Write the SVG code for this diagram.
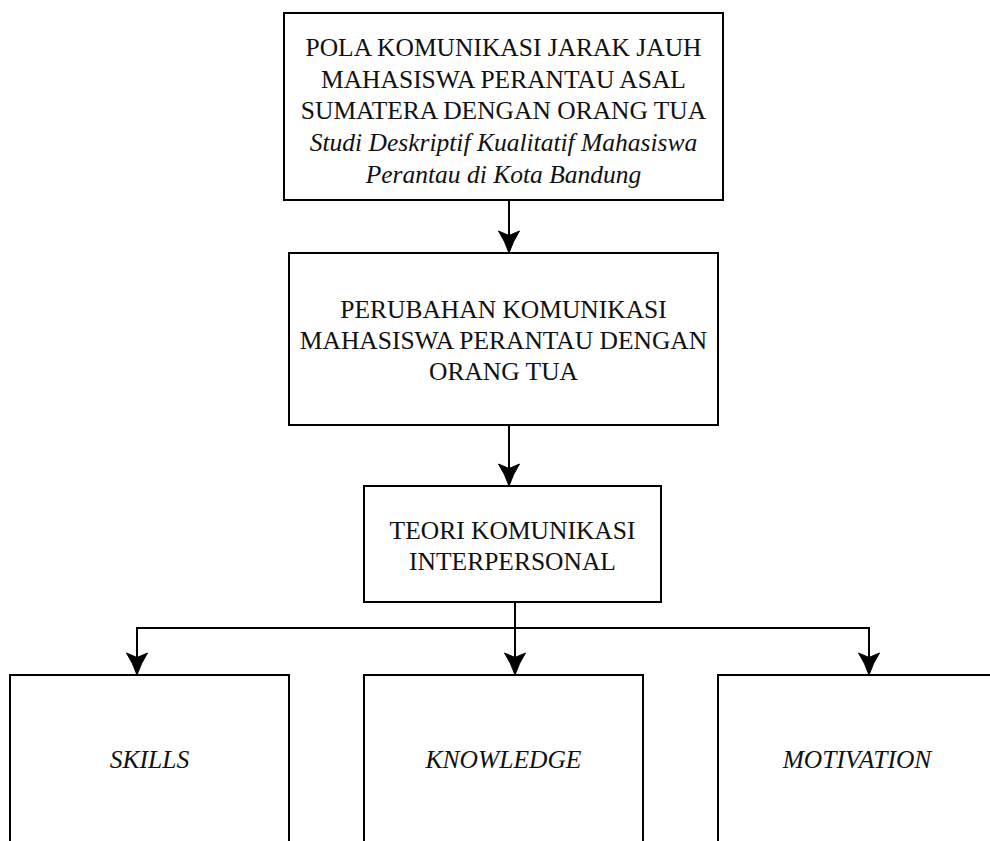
<svg xmlns="http://www.w3.org/2000/svg" width="990" height="841" viewBox="0 0 990 841">
<style>
.box{fill:#fff;stroke:#000;stroke-width:2}
.t{font-family:"Liberation Serif","Times New Roman",serif;font-size:25.5px;fill:#111;text-anchor:middle}
.i{font-style:italic}
.c{fill:none;stroke:#000;stroke-width:2}
.ah{fill:#000;stroke:#000;stroke-width:1;stroke-linejoin:round}
</style>
<rect width="990" height="841" fill="#fff"/>
<g id="connectors">
<path class="c" d="M509 200 V240"/>
<path class="ah" d="M509 253 Q505 241 498.5 231 L509 235.5 L519.5 231 Q513 241 509 253 Z"/>
<path class="c" d="M509 425 V473"/>
<path class="ah" d="M509 486 Q505 474 498.5 464 L509 468.5 L519.5 464 Q513 474 509 486 Z"/>
<path class="c" d="M515 602 V662"/>
<path class="ah" d="M515 675 Q511 663 504.5 653 L515 657.5 L525.5 653 Q519 663 515 675 Z"/>
<path class="c" d="M137 662 V628 H869 V662"/>
<path class="ah" d="M137 675 Q133 663 126.5 653 L137 657.5 L147.5 653 Q141 663 137 675 Z"/>
<path class="ah" d="M869 675 Q865 663 858.5 653 L869 657.5 L879.5 653 Q873 663 869 675 Z"/>
</g>
<g id="n1">
<rect class="box" x="284" y="13" width="439" height="187"/>
<text class="t" x="503.5" y="56">POLA KOMUNIKASI JARAK JAUH</text>
<text class="t" x="503.5" y="88">MAHASISWA PERANTAU ASAL</text>
<text class="t" x="503.5" y="119">SUMATERA DENGAN ORANG TUA</text>
<text class="t i" x="503.5" y="151">Studi Deskriptif Kualitatif Mahasiswa</text>
<text class="t i" x="503.5" y="183">Perantau di Kota Bandung</text>
</g>
<g id="n2">
<rect class="box" x="289" y="253" width="429" height="172"/>
<text class="t" x="503.5" y="318">PERUBAHAN KOMUNIKASI</text>
<text class="t" x="503.5" y="349">MAHASISWA PERANTAU DENGAN</text>
<text class="t" x="503.5" y="380">ORANG TUA</text>
</g>
<g id="n3">
<rect class="box" x="364" y="486" width="297" height="116"/>
<text class="t" x="512.5" y="539">TEORI KOMUNIKASI</text>
<text class="t" x="512.5" y="570">INTERPERSONAL</text>
</g>
<g id="n4">
<rect class="box" x="10" y="675" width="279" height="190"/>
<text class="t i" x="149.5" y="768">SKILLS</text>
</g>
<g id="n5">
<rect class="box" x="364" y="675" width="279" height="190"/>
<text class="t i" x="503.5" y="768">KNOWLEDGE</text>
</g>
<g id="n6">
<rect class="box" x="718" y="675" width="279" height="190"/>
<text class="t i" x="857" y="768">MOTIVATION</text>
</g>
</svg>
